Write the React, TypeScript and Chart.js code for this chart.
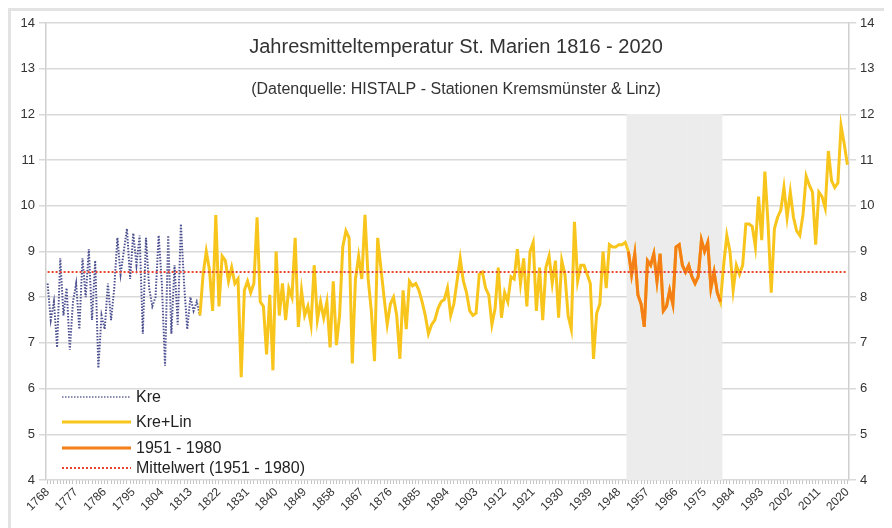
import React, { useEffect, useRef } from 'react';
import { Chart, registerables } from 'chart.js';

Chart.register(...registerables);

// ---------------- data ----------------
const FIRST_YEAR = 1768;
const LAST_YEAR = 2020;

const X_TICK_LABELS = [
  '1768', '1777', '1786', '1795', '1804', '1813', '1822', '1831', '1840', '1849',
  '1858', '1867', '1876', '1885', '1894', '1903', '1912', '1921', '1930', '1939',
  '1948', '1957', '1966', '1975', '1984', '1993', '2002', '2011', '2020',
];

const Y_MIN = 4;
const Y_MAX = 14;
const Y_STEP = 1;

// Kremsmünster only (1768 - 1816)
const KRE_START = 1768;
const kreValues = [
  8.3, 7.5, 7.9, 6.9, 8.85, 7.6, 8.2, 6.85, 7.9, 8.3,
  7.3, 8.85, 8.0, 9.05, 7.5, 8.8, 6.45, 7.6, 7.3, 8.3,
  7.5, 8.2, 9.3, 8.5, 9.0, 9.5, 8.4, 9.4, 8.7, 9.35,
  7.2, 9.3, 8.2, 7.8, 8.0, 9.35, 8.3, 6.5, 9.35, 7.2,
  8.7, 7.4, 9.6, 8.3, 7.3, 8.0, 7.7, 7.9, 7.6,
];

// Kremsmünster + Linz (1816 - 2020)
const KRE_LIN_START = 1816;
const kreLinValues = [
  7.6, 8.5, 9.0, 8.6, 7.7, 9.8, 7.8, 8.9, 8.8, 8.35,
  8.65, 8.3, 8.4, 6.25, 8.15, 8.35, 8.1, 8.3, 9.75, 7.9,
  7.8, 6.75, 8.05, 6.4, 9.0, 7.6, 8.3, 7.5, 8.2, 8.0,
  9.3, 7.35, 8.15, 7.6, 7.8, 7.4, 8.7, 7.5, 7.9, 7.55,
  7.9, 6.9, 8.35, 6.95, 7.6, 9.1, 9.45, 9.3, 6.55, 8.4,
  8.9, 8.4, 9.8, 8.4, 7.7, 6.6, 9.3, 8.65, 8.0, 7.4,
  7.85, 8.0, 7.6, 6.65, 8.15, 7.3, 8.35, 8.25, 8.3, 8.15,
  7.9, 7.6, 7.2, 7.4, 7.5, 7.75, 7.9, 7.95, 8.2, 7.6,
  7.85, 8.35, 8.85, 8.35, 8.1, 7.7, 7.6, 7.65, 8.5, 8.55,
  8.2, 8.05, 7.4, 7.75, 8.65, 7.55, 8.1, 7.9, 8.45, 8.4,
  9.05, 8.3, 8.85, 7.8, 9.0, 9.2, 7.7, 8.65, 7.5, 8.65,
  8.9, 8.3, 8.8, 7.55, 8.8, 8.5, 7.6, 7.3, 9.65, 8.35,
  8.7, 8.7, 8.5, 8.3, 6.65, 7.65, 7.85, 9.0, 8.2, 9.15,
  9.1, 9.1, 9.15, 9.15, 9.2, 9.0, 8.5, 8.95, 8.05, 7.85,
  7.35, 8.8, 8.7, 8.95, 8.35, 8.95, 7.7, 7.8, 8.15, 7.85,
  9.1, 9.15, 8.7, 8.55, 8.7, 8.45, 8.3, 8.45, 9.25, 9.0,
  9.2, 8.2, 8.55, 8.1, 7.9, 8.7, 9.35, 9.0, 8.15, 8.7,
  8.5, 8.7, 9.6, 9.6, 9.55, 9.1, 10.2, 9.25, 10.75, 9.6,
  8.1, 9.5, 9.75, 9.9, 10.4, 9.75, 10.3, 9.75, 9.45, 9.35,
  9.8, 10.65, 10.45, 10.3, 9.15, 10.3, 10.2, 9.95, 11.2, 10.55,
  10.4, 10.5, 11.75, 11.35, 10.9,
];

// reference period
const REF_START = 1951;
const REF_END = 1980;
const MEAN_1951_1980 = 8.55;
const BAND_TOP = 12;

const TITLE = 'Jahresmitteltemperatur St. Marien 1816 - 2020';
const SUBTITLE = '(Datenquelle: HISTALP - Stationen Kremsmünster & Linz)';

// ---------------- derived series ----------------
const years: string[] = [];
for (let y = FIRST_YEAR; y <= LAST_YEAR; y++) years.push(String(y));

function place(start: number, values: number[]): (number | null)[] {
  return years.map((_, i) => {
    const k = FIRST_YEAR + i - start;
    return k >= 0 && k < values.length ? values[k] : null;
  });
}

const kreSeries = place(KRE_START, kreValues);
const kreLinSeries = place(KRE_LIN_START, kreLinValues);
const refSeries = years.map((y, i) => (+y >= REF_START && +y <= REF_END ? kreLinSeries[i] : null));
const meanSeries = years.map(() => MEAN_1951_1980);
const bandSeries = years.map((y) => (+y >= REF_START && +y <= REF_END ? BAND_TOP : null));

// ---------------- styles ----------------
const FONT = '"Liberation Sans", Arial, Helvetica, sans-serif';
const TEXT_COLOR = '#333333';
const GRID_COLOR = '#d9d9d9';

const C_KRE = '#4f5290';
const C_KRE_LEGEND = '#8a8cb0';
const C_KRELIN = '#f8c51d';
const C_REF = '#f47f16';
const C_MEAN = '#e8452c';

const overlayPlugin = {
  id: 'overlayText',
  afterDraw(chart: any) {
    const ctx = chart.ctx as CanvasRenderingContext2D;
    ctx.save();
    ctx.fillStyle = '#333';
    ctx.textAlign = 'center';
    ctx.textBaseline = 'alphabetic';
    ctx.font = `20px ${FONT}`;
    ctx.fillText(TITLE, 445, 42);
    ctx.font = `16px ${FONT}`;
    ctx.fillText(SUBTITLE, 445, 83);

    // legend
    const items = chart.data.datasets.filter((d: any) => d.inLegend);
    const ys = [386, 411, 437, 457];
    items.forEach((d: any, k: number) => {
      const y = ys[k];
      ctx.beginPath();
      ctx.strokeStyle = d.legendColor || d.borderColor;
      ctx.lineWidth = d.borderWidth;
      ctx.setLineDash(d.borderDash || []);
      ctx.moveTo(51, y);
      ctx.lineTo(120, y);
      ctx.stroke();
      ctx.setLineDash([]);
      ctx.fillStyle = '#222';
      ctx.textAlign = 'left';
      ctx.textBaseline = 'middle';
      ctx.font = `16px ${FONT}`;
      ctx.fillText(d.label, 125, y + 1);
    });
    ctx.restore();
  },
};

export default function App() {
  const ref = useRef<HTMLCanvasElement>(null);

  useEffect(() => {
    if (!ref.current) return;
    Chart.defaults.font.family = FONT;
    const chart = new Chart(ref.current, {
      type: 'line',
      data: {
        labels: years,
        datasets: [
          {
            type: 'line',
            label: 'Kre',
            data: kreSeries,
            borderColor: C_KRE,
            legendColor: C_KRE_LEGEND,
            borderWidth: 2,
            borderDash: [1.5, 1.5],
            pointRadius: 0,
            spanGaps: false,
            order: 3,
            inLegend: true,
          } as any,
          {
            type: 'line',
            label: 'Kre+Lin',
            data: kreLinSeries,
            borderColor: C_KRELIN,
            borderWidth: 3,
            pointRadius: 0,
            spanGaps: false,
            order: 2,
            inLegend: true,
          } as any,
          {
            type: 'line',
            label: '1951 - 1980',
            data: refSeries,
            borderColor: C_REF,
            borderWidth: 3,
            pointRadius: 0,
            spanGaps: false,
            order: 1,
            inLegend: true,
          } as any,
          {
            type: 'line',
            label: 'Mittelwert (1951 - 1980)',
            data: meanSeries,
            borderColor: C_MEAN,
            borderWidth: 2,
            borderDash: [2, 2],
            pointRadius: 0,
            order: 0,
            inLegend: true,
          } as any,
          {
            type: 'bar',
            label: 'Bezugsperiode',
            data: bandSeries,
            backgroundColor: '#ececec',
            borderWidth: 0,
            barPercentage: 1,
            categoryPercentage: 1,
            order: 5,
          } as any,
        ],
      },
      options: {
        responsive: false,
        devicePixelRatio: 1,
        animation: false,
        events: [],
        layout: { padding: { top: 12, left: 0, right: 0, bottom: 0 } },
        plugins: {
          legend: { display: false },
          tooltip: { enabled: false },
          title: { display: false },
        },
        elements: { line: { tension: 0 } },
        scales: {
          x: {
            type: 'category',
            offset: true,
            grid: {
              drawOnChartArea: false,
              drawTicks: true,
              tickLength: 4,
              color: '#c4c4c4',
              offset: false,
            },
            border: { display: false },
            ticks: {
              autoSkip: false,
              maxRotation: 45,
              minRotation: 45,
              padding: 1,
              color: TEXT_COLOR,
              font: { size: 12, family: FONT },
              callback: (_v: any, i: number) => {
                const s = years[i];
                return X_TICK_LABELS.includes(s) ? s : '';
              },
            },
            afterFit: (s: any) => {
              s.height = 48;
            },
          },
          y: {
            type: 'linear',
            position: 'left',
            min: Y_MIN,
            max: Y_MAX,
            ticks: {
              stepSize: Y_STEP,
              padding: 4,
              color: TEXT_COLOR,
              font: { size: 13, family: FONT },
            },
            grid: { color: GRID_COLOR, tickLength: 7, lineWidth: 1.5 },
            border: { display: true, color: '#cfcfcf', width: 1.5 },
            afterFit: (s: any) => {
              s.width = 35;
            },
          },
          y2: {
            type: 'linear',
            position: 'right',
            min: Y_MIN,
            max: Y_MAX,
            ticks: {
              stepSize: Y_STEP,
              padding: 4,
              color: TEXT_COLOR,
              font: { size: 13, family: FONT },
            },
            grid: { drawOnChartArea: false, color: GRID_COLOR, tickLength: 7, lineWidth: 1.5 },
            border: { display: true, color: '#cfcfcf', width: 1.5 },
            afterFit: (s: any) => {
              s.width = 41;
            },
          },
        },
      } as any,
      plugins: [overlayPlugin],
    });
    return () => chart.destroy();
  }, []);

  return (
    <div
      style={{
        width: 882,
        height: 520,
        boxSizing: 'border-box',
        borderTop: '3px solid #e3e3e3',
        borderLeft: '3px solid #e3e3e3',
        background: '#fff',
      }}
    >
      <canvas ref={ref} width={879} height={517} style={{ display: 'block', width: 879, height: 517 }} />
    </div>
  );
}
